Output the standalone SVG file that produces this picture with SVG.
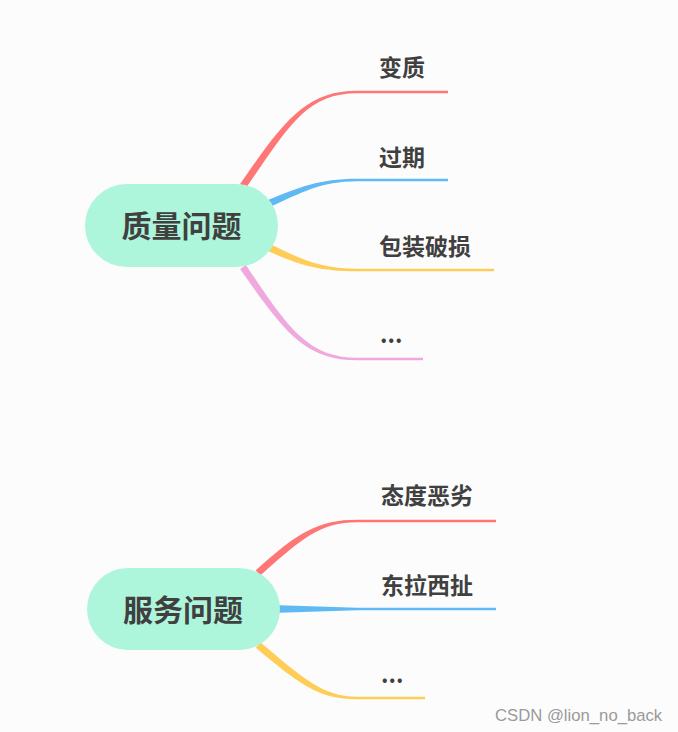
<svg xmlns="http://www.w3.org/2000/svg" width="678" height="732" viewBox="0 0 678 732">
<style>
.bg{fill:#fcfcfc}
.node{fill:#aef6db}
.ntext{font-family:"Noto Sans CJK SC","Noto Sans",sans-serif;font-weight:bold;font-size:30px;fill:#404040;text-anchor:middle}
.ltext{font-family:"Noto Sans CJK SC","Noto Sans",sans-serif;font-weight:bold;font-size:23px;fill:#404040}
.red{fill:#ff7676}
.blue{fill:#5fb9f2}
.yellow{fill:#ffcd57}
.pink{fill:#efa9de}
.wm{font-family:"Liberation Sans",Arial,sans-serif;font-size:16.7px;fill:#9a9a9a}
</style>
<rect class="bg" x="0" y="0" width="678" height="732"/>
<g id="connectors">
<path class="red" d="M240.1,184 C283,122.5 305,90.8 357,90.8 L448,90.8 L448,93.2 L357,93.2 C306,93.2 288,127.5 245.9,188 Z"/>
<path class="blue" d="M268.6,199.8 C299,187.5 319,178.8 357,178.8 L448,178.8 L448,181.2 L357,181.2 C321,181.2 302,192.5 271.4,206.2 Z"/>
<path class="yellow" d="M271.5,244.8 C301,259 321,268.8 357,268.8 L494,268.8 L494,271.2 L357,271.2 C319,271.2 299,265 268.5,251.2 Z"/>
<path class="pink" d="M245.9,265 C287,326 307,357.8 357,357.8 L423,357.8 L423,360.2 L357,360.2 C304,360.2 283,330 240.1,269 Z"/>
<path class="red" d="M255.7,570.4 C298,532 319,519.8 357,519.8 L496,519.8 L496,522.2 L357,522.2 C321,522.2 302,538 260.3,575.6 Z"/>
<path class="blue" d="M272,605 L357,607.8 L496,607.8 L496,610.2 L357,610.2 L272,613 Z"/>
<path class="yellow" d="M260.2,642.3 C302,677 322,696.8 357,696.8 L425,696.8 L425,699.2 L357,699.2 C318,699.2 298,683 255.8,647.7 Z"/>
</g>
<g id="node-quality">
<rect class="node" x="85" y="184" width="193" height="83" rx="41.5"/>
<text class="ntext" x="181.5" y="237">质量问题</text>
</g>
<g id="node-bianzhi"><text class="ltext" x="379" y="76">变质</text></g>
<g id="node-guoqi"><text class="ltext" x="379" y="166">过期</text></g>
<g id="node-baozhuang"><text class="ltext" x="379" y="255">包装破损</text></g>
<g id="node-etc1"><text class="ltext" x="380" y="343">...</text></g>
<g id="node-service">
<rect class="node" x="87" y="568" width="193" height="82" rx="41"/>
<text class="ntext" x="183" y="621">服务问题</text>
</g>
<g id="node-taidu"><text class="ltext" x="381" y="504">态度恶劣</text></g>
<g id="node-dongla"><text class="ltext" x="381" y="594">东拉西扯</text></g>
<g id="node-etc2"><text class="ltext" x="381" y="683">...</text></g>
<text class="wm" x="495" y="721">CSDN @lion_no_back</text>
</svg>
